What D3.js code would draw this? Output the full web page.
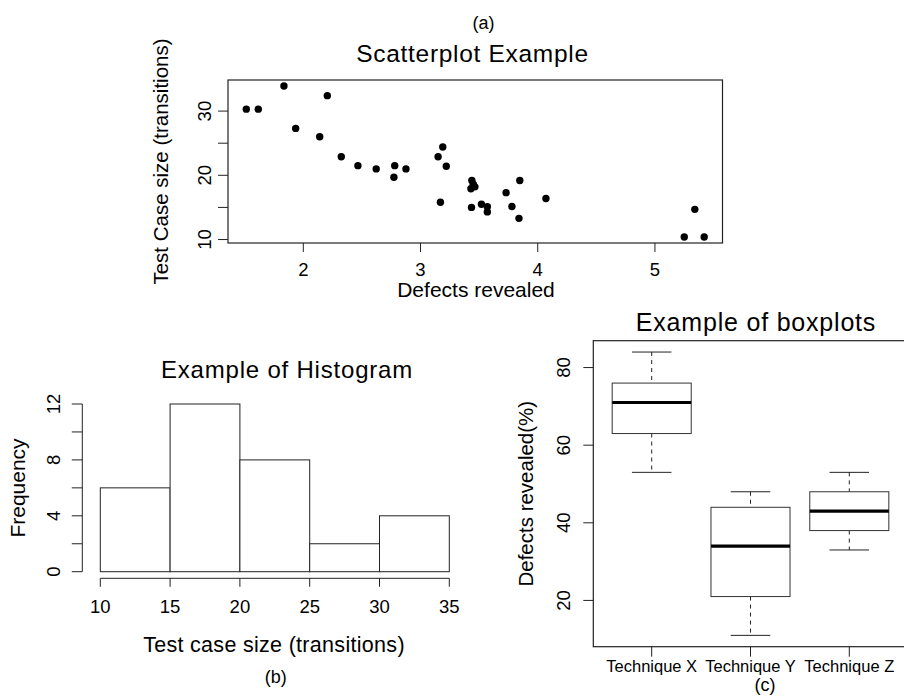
<!DOCTYPE html>
<html>
<head>
<meta charset="utf-8">
<script src="https://cdn.jsdelivr.net/npm/d3@7"></script>
<style>
  html, body { margin: 0; padding: 0; background: #fff; }
  svg { display: block; }
  text { font-family: "Liberation Sans", Arial, Helvetica, sans-serif; fill: #000; }
</style>
</head>
<body>
<svg id="fig" width="904" height="696"></svg>
<script>
// ---- data ----
// (a) scatterplot: defects revealed vs test case size
const defectsRevealed = [1.514, 1.616, 1.835, 2.205, 1.935, 2.14, 2.324, 3.15, 3.19, 2.466, 2.622,
  2.78, 2.773, 2.876, 3.22, 3.438, 3.45, 3.464, 3.43, 3.17, 3.435, 3.52, 3.57, 3.57, 3.73, 3.847,
  3.78, 3.84, 4.07, 5.34, 5.25, 5.42];
const testCaseSize = [30.3, 30.3, 33.9, 32.4, 27.3, 26.0, 22.9, 22.9, 24.4, 21.5, 21.0,
  21.5, 19.7, 21.0, 21.4, 19.2, 18.6, 18.2, 17.9, 15.8, 15.0, 15.5, 15.1, 14.3, 17.3, 19.2,
  15.15, 13.3, 16.4, 14.7, 10.4, 10.4];
const scatterXTicks = [2, 3, 4, 5];
const scatterYTicks = [10, 15, 20, 25, 30];
const scatterYLabels = [10, 20, 30];

// (b) histogram of test case size
const histBreaks = [10, 15, 20, 25, 30, 35];
const histCounts = [6, 12, 8, 2, 4];
const histYTicks = [0, 2, 4, 6, 8, 10, 12];
const histYLabels = [0, 4, 8, 12];

// (c) boxplots of defects revealed per technique
const techniques = ["Technique X", "Technique Y", "Technique Z"];
const whiskerLow = [53, 11, 33];
const quartile1 = [63, 21, 38];
const medians = [71, 34, 43];
const quartile3 = [76, 44, 48];
const whiskerHigh = [84, 48, 53];
const boxYTicks = [20, 40, 60, 80];

const svg = d3.select("#fig");
const LINE = "#222";

function label(g, txt, x, y, size, opts = {}) {
  const t = g.append("text")
    .attr("x", x).attr("y", y)
    .attr("font-size", size)
    .attr("text-anchor", opts.anchor || "middle")
    .text(txt);
  if (opts.spacing) t.attr("letter-spacing", opts.spacing);
  if (opts.rotate) t.attr("transform", `rotate(-90 ${x} ${y})`);
  return t;
}

// R-style padding: extend the data range by 4% on both sides
function padded(ext) {
  const d = (ext[1] - ext[0]) * 0.04;
  return [ext[0] - d, ext[1] + d];
}

// ---------- (a) Scatterplot ----------
{
  const g = svg.append("g");
  const L = 228, R = 722.5, T = 80, B = 243;
  const x = d3.scaleLinear().domain(padded(d3.extent(defectsRevealed))).range([L, R]);
  const y = d3.scaleLinear().domain(padded(d3.extent(testCaseSize))).range([B, T]);

  g.append("rect").attr("x", L).attr("y", T).attr("width", R - L).attr("height", B - T)
    .attr("fill", "none").attr("stroke", LINE).attr("stroke-width", 1.2);

  g.selectAll("circle.pt").data(defectsRevealed.map((d, i) => [d, testCaseSize[i]]))
    .join("circle").attr("class", "pt")
    .attr("cx", d => x(d[0])).attr("cy", d => y(d[1])).attr("r", 3.7).attr("fill", "#000");

  // x axis ticks + labels
  g.selectAll("line.xt").data(scatterXTicks).join("line").attr("class", "xt")
    .attr("x1", d => x(d)).attr("x2", d => x(d)).attr("y1", B).attr("y2", B + 9)
    .attr("stroke", LINE);
  scatterXTicks.forEach(d => label(g, d, x(d), B + 33, 18.5));

  // y axis ticks + labels
  g.selectAll("line.yt").data(scatterYTicks).join("line").attr("class", "yt")
    .attr("x1", L - 10).attr("x2", L).attr("y1", d => y(d)).attr("y2", d => y(d))
    .attr("stroke", LINE);
  scatterYLabels.forEach(d => label(g, d, 211.5, y(d), 18.5, { rotate: true }));

  label(g, "Defects revealed", 476, 297, 21);
  label(g, "Test Case size (transitions)", 168, 161.5, 20.5, { rotate: true });
  label(g, "Scatterplot Example", 472.5, 61.5, 24.5, { spacing: 0.7 });
  label(g, "(a)", 483.5, 28.5, 18);
}

// ---------- (b) Histogram ----------
{
  const g = svg.append("g");
  const x = d3.scaleLinear().domain([histBreaks[0], histBreaks[histBreaks.length - 1]]).range([100.3, 449.3]);
  const y = d3.scaleLinear().domain([0, 12]).range([571.7, 404]);
  const axisX = 82.3, axisY = 578.3;

  const bins = histCounts.map((c, i) => ({ x0: histBreaks[i], x1: histBreaks[i + 1], n: c }));
  g.selectAll("rect.bar").data(bins).join("rect").attr("class", "bar")
    .attr("x", d => x(d.x0)).attr("width", d => x(d.x1) - x(d.x0))
    .attr("y", d => y(d.n)).attr("height", d => y(0) - y(d.n))
    .attr("fill", "#fff").attr("stroke", LINE).attr("stroke-width", 1);

  // y axis
  g.append("line").attr("x1", axisX).attr("x2", axisX).attr("y1", y(0)).attr("y2", y(12)).attr("stroke", LINE);
  g.selectAll("line.yt").data(histYTicks).join("line").attr("class", "yt")
    .attr("x1", axisX - 10.5).attr("x2", axisX).attr("y1", d => y(d)).attr("y2", d => y(d)).attr("stroke", LINE);
  histYLabels.forEach(d => label(g, d, 60, y(d), 18.5, { rotate: true }));

  // x axis
  g.append("line").attr("x1", x(10)).attr("x2", x(35)).attr("y1", axisY).attr("y2", axisY).attr("stroke", LINE);
  g.selectAll("line.xt").data(histBreaks).join("line").attr("class", "xt")
    .attr("x1", d => x(d)).attr("x2", d => x(d)).attr("y1", axisY).attr("y2", axisY + 8.5).attr("stroke", LINE);
  histBreaks.forEach(d => label(g, d, x(d), 613.3, 18.5));

  label(g, "Frequency", 25, 488, 21, { rotate: true });
  label(g, "Test case size (transitions)", 274, 651.5, 21.5, { spacing: 0.3 });
  label(g, "Example of Histogram", 287, 378, 24, { spacing: 0.8 });
  label(g, "(b)", 275.7, 682.5, 18);
}

// ---------- (c) Boxplots ----------
{
  const g = svg.append("g");
  const L = 593.3, T = 340.7, B = 646.7, R = 915;
  const x = d3.scalePoint().domain(techniques).range([651.7, 849.3]);
  const unit = (x(techniques[1]) - x(techniques[0]));
  const y = d3.scaleLinear().domain(padded([d3.min(whiskerLow), d3.max(whiskerHigh)])).range([B, T]);
  const boxW = 0.8 * unit, capW = 0.4 * unit;

  g.append("rect").attr("x", L).attr("y", T).attr("width", R - L).attr("height", B - T)
    .attr("fill", "none").attr("stroke", LINE).attr("stroke-width", 1.2);

  const stats = techniques.map((t, i) => ({
    t, lo: whiskerLow[i], q1: quartile1[i], med: medians[i], q3: quartile3[i], hi: whiskerHigh[i]
  }));
  const bx = g.selectAll("g.box").data(stats).join("g").attr("class", "box");
  // dashed whiskers
  bx.append("line").attr("x1", d => x(d.t)).attr("x2", d => x(d.t))
    .attr("y1", d => y(d.hi)).attr("y2", d => y(d.q3))
    .attr("stroke", LINE).attr("stroke-dasharray", "4,4");
  bx.append("line").attr("x1", d => x(d.t)).attr("x2", d => x(d.t))
    .attr("y1", d => y(d.q1)).attr("y2", d => y(d.lo))
    .attr("stroke", LINE).attr("stroke-dasharray", "4,4");
  // staples
  bx.append("line").attr("x1", d => x(d.t) - capW / 2).attr("x2", d => x(d.t) + capW / 2)
    .attr("y1", d => y(d.hi)).attr("y2", d => y(d.hi)).attr("stroke", LINE);
  bx.append("line").attr("x1", d => x(d.t) - capW / 2).attr("x2", d => x(d.t) + capW / 2)
    .attr("y1", d => y(d.lo)).attr("y2", d => y(d.lo)).attr("stroke", LINE);
  // box
  bx.append("rect").attr("x", d => x(d.t) - boxW / 2).attr("width", boxW)
    .attr("y", d => y(d.q3)).attr("height", d => y(d.q1) - y(d.q3))
    .attr("fill", "#fff").attr("stroke", "#333").attr("stroke-width", 1);
  // median
  bx.append("line").attr("x1", d => x(d.t) - boxW / 2).attr("x2", d => x(d.t) + boxW / 2)
    .attr("y1", d => y(d.med)).attr("y2", d => y(d.med)).attr("stroke", "#000").attr("stroke-width", 3.2);

  // y axis
  g.selectAll("line.yt").data(boxYTicks).join("line").attr("class", "yt")
    .attr("x1", L - 10).attr("x2", L).attr("y1", d => y(d)).attr("y2", d => y(d)).attr("stroke", LINE);
  boxYTicks.forEach(d => label(g, d, 570, y(d), 18.5, { rotate: true }));

  // x axis
  g.selectAll("line.xt").data(techniques).join("line").attr("class", "xt")
    .attr("x1", d => x(d)).attr("x2", d => x(d)).attr("y1", B).attr("y2", B + 10).attr("stroke", LINE);
  techniques.forEach(d => label(g, d, x(d), 671.5, 16.5));

  label(g, "Defects revealed(%)", 533, 493.7, 20.5, { rotate: true });
  label(g, "Example of boxplots", 756, 330.5, 25, { spacing: 0.8 });
  label(g, "(c)", 765, 691, 18);
}
</script>
</body>
</html>
